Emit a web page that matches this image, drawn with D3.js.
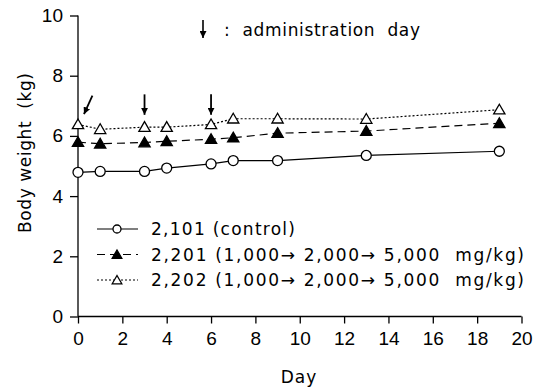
<!DOCTYPE html>
<html>
<head>
<meta charset="utf-8">
<script src="https://cdn.jsdelivr.net/npm/d3@7"></script>
<style>
  body { margin: 0; background: white; }
  text { font-family: "DejaVu Sans", sans-serif; fill: black; white-space: pre; }
  .tick text { font-family: "Liberation Sans", sans-serif; }
</style>
</head>
<body>
<div id="container"></div>
<script>
let w = 541;
let h = 387;

// data
let days = [0, 1, 3, 4, 6, 7, 9, 13, 19];
let control = [4.79, 4.82, 4.82, 4.93, 5.07, 5.18, 5.18, 5.35, 5.49];
let group2201 = [5.79, 5.74, 5.78, 5.82, 5.89, 5.94, 6.09, 6.16, 6.42];
let group2202 = [6.38, 6.22, 6.29, 6.29, 6.38, 6.57, 6.57, 6.56, 6.87];
let seriesNames = ["2,101 (control)", "2,201 (1,000\u2192 2,000\u2192 5,000  mg/kg)", "2,202 (1,000\u2192 2,000\u2192 5,000  mg/kg)"];
let xTicks = [0, 2, 4, 6, 8, 10, 12, 14, 16, 18, 20];
let yTicks = [0, 2, 4, 6, 8, 10];
// administration day arrows (tail -> head, data units)
let arrows = [
  {x1: 0.65, y1: 7.34, x2: 0.27, y2: 6.72},
  {x1: 3, y1: 7.38, x2: 3, y2: 6.7},
  {x1: 6, y1: 7.38, x2: 6, y2: 6.7}
];

let viz = d3.select("#container").append("svg")
    .attr("width", w)
    .attr("height", h);

let xScale = d3.scaleLinear().domain([0, 20]).range([78, 521.5]);
let yScale = d3.scaleLinear().domain([0, 10]).range([316.5, 15.5]);

viz.append("defs").append("marker")
    .attr("id", "head")
    .attr("viewBox", "0 0 10 10")
    .attr("refX", 10).attr("refY", 5)
    .attr("markerWidth", 7).attr("markerHeight", 7)
    .attr("markerUnits", "userSpaceOnUse")
    .attr("orient", "auto")
  .append("path").attr("d", "M0,0 L10,5 L0,10 Z").attr("fill", "black");

// axes
let xAxis = d3.axisBottom(xScale).tickValues(xTicks).tickSize(7).tickPadding(8);
let xAxisGroup = viz.append("g")
    .attr("transform", "translate(0," + yScale(0) + ")")
    .call(xAxis);
let yAxis = d3.axisLeft(yScale).tickValues(yTicks).tickSize(8).tickPadding(7);
let yAxisGroup = viz.append("g")
    .attr("transform", "translate(" + xScale(0) + ",0)")
    .call(yAxis);
[xAxisGroup, yAxisGroup].forEach(g => {
  g.select(".domain").attr("stroke", "black").attr("stroke-width", 1.3);
  g.selectAll("line").attr("stroke", "black").attr("stroke-width", 1.3);
  g.selectAll("text").style("font-size", "19px").attr("fill", "black");
});
// axisBottom's domain has outer ticks; remove them
xAxisGroup.select(".domain").attr("d", "M" + xScale(0) + ",0H" + xScale(20));
yAxisGroup.select(".domain").attr("d", "M0," + yScale(0) + "V" + yScale(10));

viz.append("text")
  .text("Day")
  .attr("x", 299).attr("y", 383)
  .attr("text-anchor", "middle")
  .style("font-size", "17px")
  .style("letter-spacing", "1px");

viz.append("text")
  .text("Body weight  (kg)")
  .attr("transform", "translate(31,153) rotate(-90)")
  .attr("text-anchor", "middle")
  .style("font-size", "17px")
  .attr("textLength", 160);

// lines
let series = [
  {name: seriesNames[0], values: control, dash: null, marker: "circle"},
  {name: seriesNames[1], values: group2201, dash: "8,5", marker: "filled"},
  {name: seriesNames[2], values: group2202, dash: "2,2", marker: "open"}
];

let line = d3.line().x((d, i) => xScale(days[i])).y(d => yScale(d));

function drawMarker(g, type, small) {
  if (type == "circle") {
    g.append("circle").attr("r", small ? 4 : 5).attr("fill", "white").attr("stroke", "black").attr("stroke-width", 1.3);
  } else {
    let tri = d3.symbol().type(d3.symbolTriangle).size(small ? 40 : 55);
    g.append("path").attr("d", tri()).attr("transform", "translate(0,1)")
      .attr("fill", type == "filled" ? "black" : "white")
      .attr("stroke", "black").attr("stroke-width", 1.3);
  }
}

series.forEach(s => {
  viz.append("path")
    .attr("d", line(s.values))
    .attr("fill", "none")
    .attr("stroke", "black")
    .attr("stroke-width", 1.2)
    .attr("stroke-dasharray", s.dash);
  s.values.forEach((v, i) => {
    let g = viz.append("g").attr("transform", "translate(" + xScale(days[i]) + "," + yScale(v) + ")");
    drawMarker(g, s.marker, false);
  });
});

// administration arrows
viz.selectAll(".arrow").data(arrows).enter().append("line")
  .attr("class", "arrow")
  .attr("x1", d => xScale(d.x1)).attr("y1", d => yScale(d.y1))
  .attr("x2", d => xScale(d.x2)).attr("y2", d => yScale(d.y2))
  .attr("stroke", "black").attr("stroke-width", 1.8)
  .attr("marker-end", "url(#head)");

// top note
viz.append("line")
  .attr("x1", 203).attr("y1", 20).attr("x2", 203).attr("y2", 38)
  .attr("stroke", "black").attr("stroke-width", 1.6)
  .attr("marker-end", "url(#head)");
viz.append("text")
  .text(":  administration  day")
  .attr("x", 224).attr("y", 36)
  .style("font-size", "17px")
  .attr("textLength", 196);

// legend
let legendWidths = [144, 373, 373];
let legend = viz.append("g").attr("transform", "translate(97,229)");
series.forEach((s, i) => {
  let row = legend.append("g").attr("transform", "translate(0," + (i * 25.5) + ")");
  row.append("line")
    .attr("x1", 0).attr("x2", 41).attr("y1", 0).attr("y2", 0)
    .attr("stroke", "black").attr("stroke-width", 1.2)
    .attr("stroke-dasharray", s.dash);
  let m = row.append("g").attr("transform", "translate(20,0)");
  drawMarker(m, s.marker, true);
  row.append("text")
    .text(s.name)
    .attr("x", 54).attr("y", 6)
    .style("font-size", "17px")
    .attr("textLength", legendWidths[i]);
});
</script>
</body>
</html>
